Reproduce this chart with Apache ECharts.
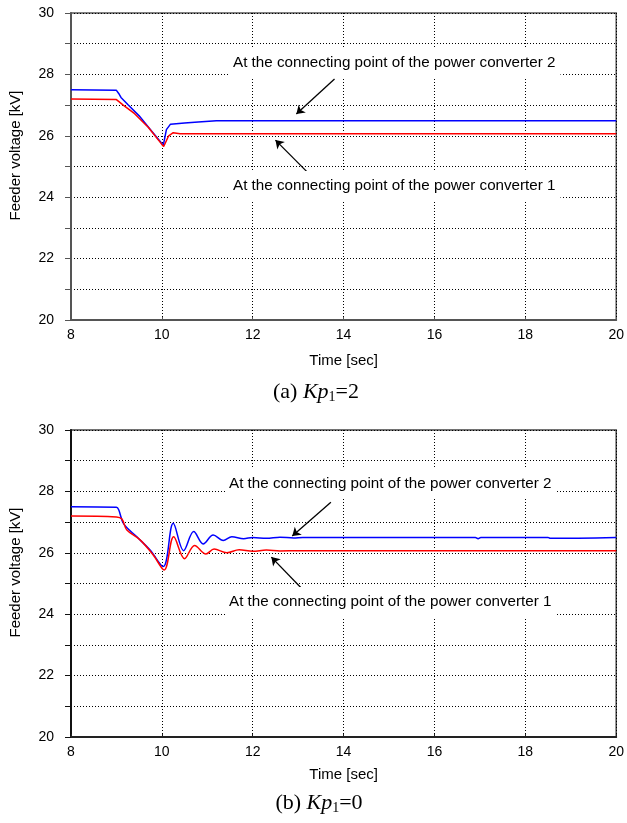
<!DOCTYPE html>
<html>
<head>
<meta charset="utf-8">
<script src="https://cdn.jsdelivr.net/npm/echarts@6/dist/echarts.min.js"></script>
<style>
  html, body { margin: 0; padding: 0; background: #fff; }
  #main { width: 627px; height: 823px; }
</style>
</head>
<body>
<div id="main"></div>
<script>
// (a) Kp1=2
const tA_blue = [8, 9.0, 9.05, 9.1, 9.25, 9.5, 9.75, 10.0, 10.03, 10.1, 10.19, 10.5, 10.8, 11.2, 20];
const vA_blue = [27.5, 27.48, 27.38, 27.25, 27.02, 26.65, 26.2, 25.75, 25.68, 26.2, 26.38, 26.42, 26.45, 26.49, 26.49];
const tA_red = [8, 9.0, 9.15, 9.4, 9.7, 10.0, 10.04, 10.15, 10.25, 10.4, 20];
const vA_red = [27.2, 27.18, 27.0, 26.72, 26.28, 25.72, 25.65, 26.0, 26.1, 26.07, 26.07];

// (b) Kp1=0
const tB_blue = [8, 9.0, 9.05, 9.16, 9.45, 9.74, 10.03, 10.25, 10.48, 10.7, 10.91, 11.13, 11.35, 11.54, 11.8, 12.0, 12.3, 12.6, 12.9, 13.1, 16.9, 16.96, 17.02, 18.5, 18.55, 20];
const vB_blue = [27.5, 27.48, 27.4, 26.94, 26.52, 26.09, 25.55, 26.96, 26.07, 26.69, 26.29, 26.58, 26.4, 26.52, 26.46, 26.5, 26.47, 26.51, 26.48, 26.5, 26.5, 26.46, 26.5, 26.5, 26.47, 26.5];
const tB_red = [8, 9.0, 9.12, 9.23, 9.52, 9.81, 10.05, 10.26, 10.5, 10.72, 10.97, 11.15, 11.43, 11.7, 12.0, 12.3, 12.6, 13.0, 20];
const vB_red = [27.2, 27.17, 27.1, 26.74, 26.42, 25.93, 25.44, 26.52, 25.81, 26.24, 25.96, 26.12, 26.0, 26.1, 26.05, 26.09, 26.06, 26.07, 26.07];

// arrows [from, to] in data coords
const arrowsA = [[[13.8, 27.85], [12.96, 26.71]], [[13.24, 24.76], [12.5, 25.86]]];
const arrowsB = [[[13.72, 27.65], [12.87, 26.55]], [[13.11, 24.79], [12.41, 25.86]]];

const label2 = 'At the connecting point of the power converter 2';
const label1 = 'At the connecting point of the power converter 1';

const sans = 'Liberation Sans, Arial, sans-serif';
const serif = 'Liberation Serif, Times New Roman, serif';

function pairs(t, v) {
  return t.map((x, i) => [x, v[i]]);
}

function xAx(idx, color, gap) {
  return {
    type: 'value', gridIndex: idx, min: 8, max: 20, interval: 2,
    name: 'Time [sec]', nameLocation: 'middle', nameGap: gap,
    nameTextStyle: { fontFamily: sans, fontSize: 15, color: '#000' },
    axisLine: { lineStyle: { color: color, width: 2 } },
    axisTick: { inside: true, length: 3, lineStyle: { color: color } },
    axisLabel: { fontFamily: sans, fontSize: 14, color: '#000', margin: 8 },
    splitLine: { show: true, lineStyle: { color: '#000', type: [1, 2], width: 1 } }
  };
}

function yAx(idx, color) {
  return {
    type: 'value', gridIndex: idx, min: 20, max: 30, interval: 1,
    name: 'Feeder voltage [kV]', nameLocation: 'middle', nameGap: 48,
    nameTextStyle: { fontFamily: sans, fontSize: 15, color: '#000', padding: [0, 0, 0, 22] },
    axisLine: { show: true, lineStyle: { color: color, width: 2 } },
    axisTick: { show: true, length: 6, lineStyle: { color: color } },
    axisLabel: {
      fontFamily: sans, fontSize: 14, color: '#000', margin: 17,
      formatter: v => (v % 2 === 0 ? String(v) : '')
    },
    splitLine: { show: true, lineStyle: { color: '#000', type: [1, 2], width: 1 } }
  };
}

function arrowLine(arrows) {
  return {
    silent: true, animation: false,
    symbol: ['none', 'arrow'], symbolSize: 8,
    lineStyle: { color: '#000', width: 1.3, type: 'solid' },
    label: { show: false },
    emphasis: { disabled: true },
    data: arrows.map(a => [{ coord: a[0] }, { coord: a[1] }])
  };
}

function note(text, x, y) {
  return {
    type: 'text', z: 50,
    style: {
      text: text, x: x, y: y, font: '15.2px ' + sans, fill: '#000',
      backgroundColor: '#fff', padding: [7, 5, 8, 3], verticalAlign: 'top'
    }
  };
}

function caption(letter, val, x, y) {
  return {
    type: 'text', z: 50,
    style: {
      text: '{n|(' + letter + ') }{i|Kp}{s|1}{n|=' + val + '}',
      x: x, y: y, align: 'center', verticalAlign: 'middle',
      rich: {
        n: { fontFamily: serif, fontSize: 22, color: '#000' },
        i: { fontFamily: serif, fontSize: 22, fontStyle: 'italic', color: '#000' },
        s: { fontFamily: serif, fontSize: 14, color: '#000', padding: [10, 0, 0, 0] }
      }
    }
  };
}

const chart = echarts.init(document.getElementById('main'), null, { renderer: 'canvas' });
chart.setOption({
  animation: false,
  backgroundColor: '#fff',
  grid: [
    { left: 70, top: 13, width: 554, height: 307, show: true, borderColor: '#555', borderWidth: 1.5, backgroundColor: 'transparent' },
    { left: 70, top: 430, width: 554, height: 307, show: true, borderColor: '#444', borderWidth: 1.5, backgroundColor: 'transparent' }
  ],
  xAxis: [xAx(0, '#555', 33), xAx(1, '#222', 30)],
  yAxis: [yAx(0, '#555'), yAx(1, '#111')],
  series: [
    {
      name: 'conv2 a', type: 'line', xAxisIndex: 0, yAxisIndex: 0,
      data: pairs(tA_blue, vA_blue), showSymbol: false,
      lineStyle: { color: '#0000ff', width: 1.5 }
    },
    {
      name: 'conv1 a', type: 'line', xAxisIndex: 0, yAxisIndex: 0,
      data: pairs(tA_red, vA_red), showSymbol: false,
      lineStyle: { color: '#ff0000', width: 1.5 },
      markLine: arrowLine(arrowsA)
    },
    {
      name: 'conv2 b', type: 'line', xAxisIndex: 1, yAxisIndex: 1,
      data: pairs(tB_blue, vB_blue), showSymbol: false, smooth: 0.35,
      lineStyle: { color: '#0000ff', width: 1.5 }
    },
    {
      name: 'conv1 b', type: 'line', xAxisIndex: 1, yAxisIndex: 1,
      data: pairs(tB_red, vB_red), showSymbol: false, smooth: 0.35,
      lineStyle: { color: '#ff0000', width: 1.5 },
      markLine: arrowLine(arrowsB)
    }
  ],
  graphic: [
    note(label2, 230, 48),
    note(label1, 230, 171),
    note(label2, 226, 469),
    note(label1, 226, 587),
    caption('a', '2', 316, 392),
    caption('b', '0', 319, 803)
  ]
});
</script>
</body>
</html>
